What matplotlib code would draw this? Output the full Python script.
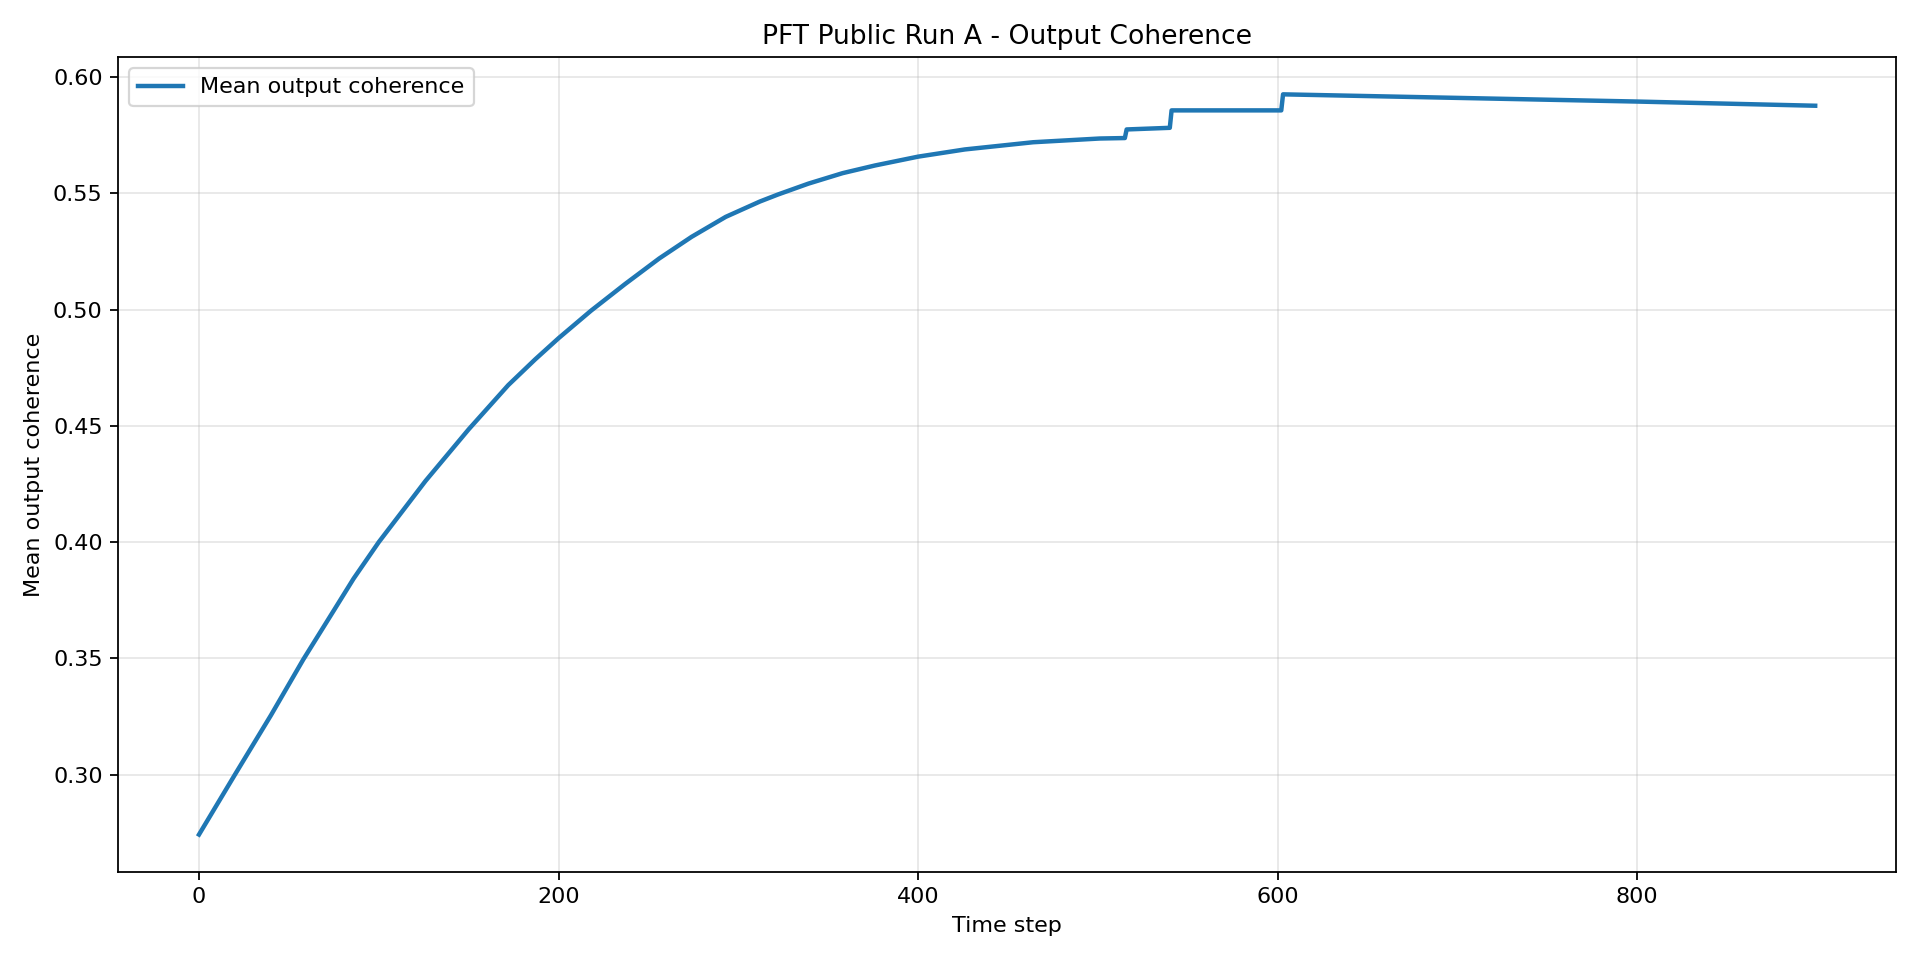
import numpy as np
import matplotlib
matplotlib.use("Agg")
import matplotlib.pyplot as plt

# values
time_step = [0, 20, 40, 58, 75, 86, 100, 126, 150, 172, 187, 200, 218, 237,
             256, 274, 293, 312, 322, 339, 358, 376, 400, 426, 464, 501, 515,
             516, 540, 541, 602, 603, 800, 899]
coherence = [0.2742, 0.3000, 0.3255, 0.3495, 0.3706, 0.3843, 0.4000, 0.4263,
             0.4485, 0.4675, 0.4786, 0.4877, 0.4995, 0.5110, 0.5220, 0.5313,
             0.5399, 0.5465, 0.5495, 0.5542, 0.5587, 0.5620, 0.5658, 0.5689,
             0.5720, 0.5736, 0.5738, 0.5775, 0.5782, 0.5857, 0.5857, 0.5926,
             0.5895, 0.5877]

fig, ax = plt.subplots(figsize=(12, 6), dpi=160)

ax.plot(time_step, coherence, color='#1f77b4', linewidth=2, label="Mean output coherence")
ax.set_title("PFT Public Run A - Output Coherence")
ax.set_xlabel("Time step")
ax.set_ylabel("Mean output coherence")
ax.grid(True, alpha=0.3)
ax.legend(loc='upper left')

plt.tight_layout()
plt.savefig("out.png", dpi=160)
